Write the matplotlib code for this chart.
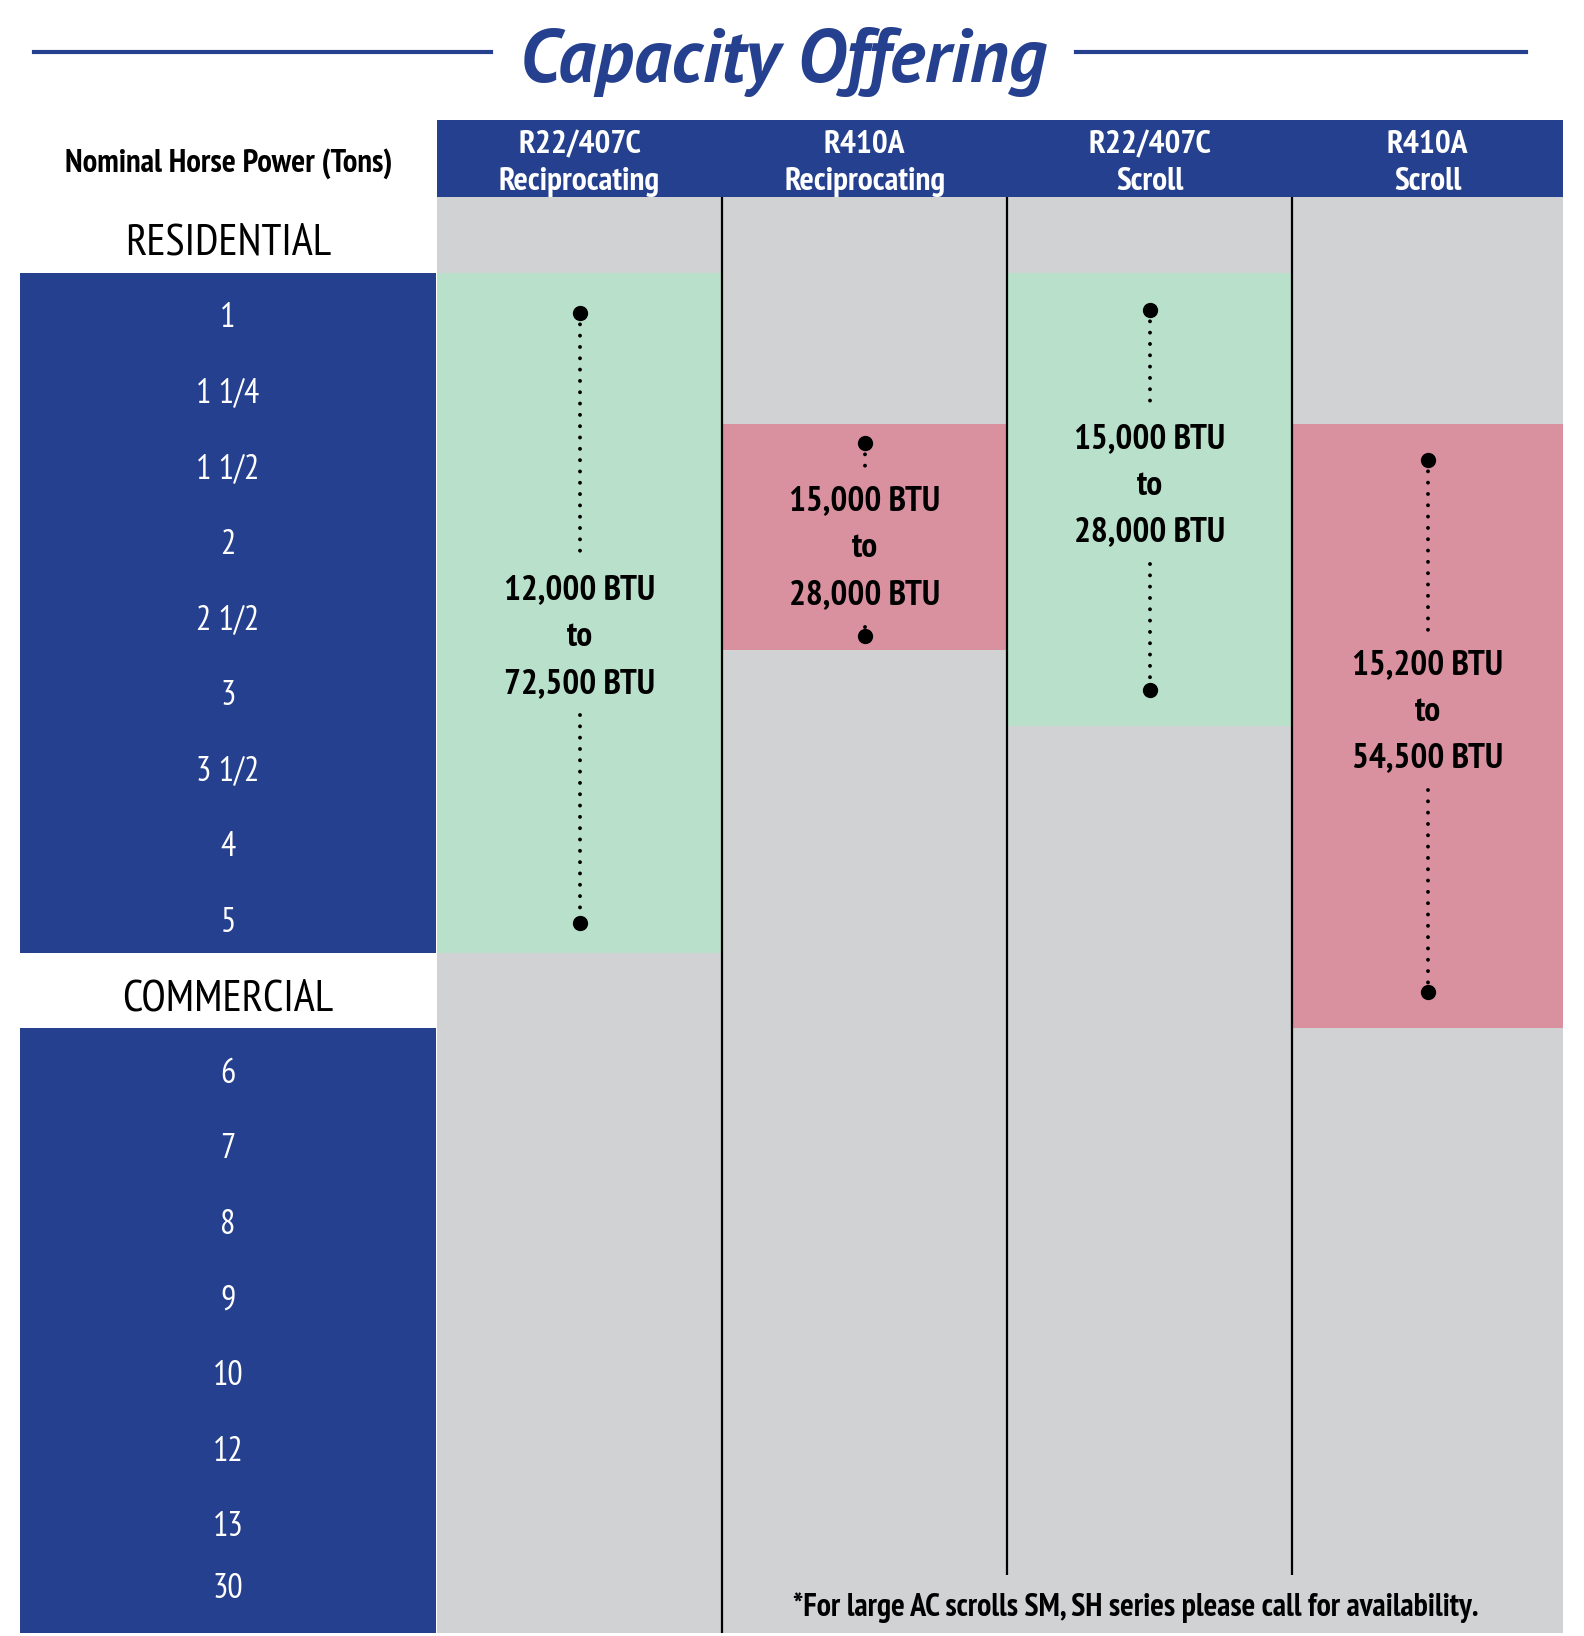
import matplotlib.pyplot as plt
from matplotlib.lines import Line2D

# datos de la tabla
residencial = ['1', '1 1/4', '1 1/2', '2', '2 1/2', '3', '3 1/2', '4', '5']
comercial = ['6', '7', '8', '9', '10', '12', '13', '30']
columnas = ['R22/407C\nReciprocating', 'R410A\nReciprocating', 'R22/407C\nScroll', 'R410A\nScroll']
btu_min = [12000, 15000, 15000, 15200]
btu_max = [72500, 28000, 28000, 54500]
# filas (en unidades de fila) que cubre cada rango
fila_ini = [1, 3, 1, 3]
fila_fin = [10, 6, 7, 11]
punto_ini = [1.53, 3.26, 1.49, 3.48]
punto_fin = [9.61, 5.81, 6.52, 10.52]
fila_texto = [5.76, 4.59, 3.76, 6.75]
tipo_color = ['verde', 'rosa', 'verde', 'rosa']
nota = '*For large AC scrolls SM, SH series please call for availability.'

azul = '#25408E'
gris = '#D1D2D4'
colores = {'verde': '#B9E0CB', 'rosa': '#D9919F'}
angosta = ['PT Sans Narrow', 'DejaVu Sans']

W, H = 1584, 1636
def caja(izq, arr, der, abj):
    return [izq / W, 1 - abj / H, (der - izq) / W, (abj - arr) / H]

fig = plt.figure(figsize=(W / 100, H / 100), dpi=100)

filas = ['RESIDENTIAL'] + residencial + ['COMMERCIAL'] + comercial
n_filas = len(filas)
anchos = [1, 1, 1, 0.95]
bordes = [sum(anchos[:i]) for i in range(len(anchos) + 1)]

# titulo
fig.text(783 / W, 1 - 62 / H, 'Capacity Offering', ha='center', va='center',
         fontsize=54, fontweight='bold', fontstyle='italic', family=['PT Sans', 'DejaVu Sans'],
         color=azul)
fig.add_artist(Line2D([34 / W, 491 / W], [1 - 52 / H] * 2, color=azul, lw=3))
fig.add_artist(Line2D([1076 / W, 1526 / W], [1 - 52 / H] * 2, color=azul, lw=3))

# encabezado
ax_h = fig.add_axes(caja(437, 120, 1563, 197))
ax_h.set_xlim(0, bordes[-1])
ax_h.set_ylim(1, 0)
ax_h.set_facecolor(azul)
ax_h.set_xticks([])
ax_h.set_yticks([])
for s in ax_h.spines.values():
    s.set_visible(False)
for i, nombre in enumerate(columnas):
    l1, l2 = nombre.split('\n')
    xc = (bordes[i] + bordes[i + 1]) / 2
    ax_h.text(xc, 0.33, l1, ha='center', va='center', color='white', fontsize=24,
              fontweight='bold', family=angosta)
    ax_h.text(xc, 0.80, l2, ha='center', va='center', color='white', fontsize=24,
              fontweight='bold', family=angosta)

fig.text(229 / W, 1 - 164 / H, 'Nominal Horse Power (Tons)', ha='center', va='center',
         fontsize=23.5, fontweight='bold', family=angosta)

# panel izquierdo
ax_l = fig.add_axes(caja(20, 197, 436, 1633))
ax_l.set_xlim(0, 1)
ax_l.set_ylim(n_filas, 0)
ax_l.axis('off')
ax_l.axhspan(1, 1 + len(residencial), color=azul, lw=0)
ax_l.axhspan(2 + len(residencial), n_filas, color=azul, lw=0)
for j, f in enumerate(filas):
    if f in ('RESIDENTIAL', 'COMMERCIAL'):
        ax_l.text(0.5, j + 0.62, f, ha='center', va='center', fontsize=32,
                  family=angosta, color='black')
    else:
        # la ultima fila va un poco mas arriba en el original
        yy = j + 0.6 if j < n_filas - 1 else j + 0.42
        ax_l.text(0.5, yy, f, ha='center', va='center', fontsize=24.5,
                  family=angosta, color='white')

# area de datos
ax = fig.add_axes(caja(437, 197, 1563, 1633))
ax.set_xlim(0, bordes[-1])
ax.set_ylim(n_filas, 0)
ax.set_facecolor(gris)
ax.set_xticks([])
ax.set_yticks([])
for s in ax.spines.values():
    s.set_visible(False)

for i in range(len(columnas)):
    ax.bar(bordes[i], fila_fin[i] - fila_ini[i], bottom=fila_ini[i], width=anchos[i],
           align='edge', color=colores[tipo_color[i]], lw=0)
    xc = (bordes[i] + bordes[i + 1]) / 2
    centro = fila_texto[i]
    ax.plot([xc, xc], [punto_ini[i], centro - 1.0], color='black', lw=2.8,
            ls=(0, (0.01, 2.9)), dash_capstyle='round')
    ax.plot([xc, xc], [centro + 1.1, punto_fin[i]], color='black', lw=2.8,
            ls=(0, (0.01, 2.9)), dash_capstyle='round')
    ax.plot([xc, xc], [punto_ini[i], punto_fin[i]], 'o', color='black', ms=10, ls='none')
    ax.text(xc, centro - 0.62 + 0.06, f'{btu_min[i]:,} BTU', ha='center', va='center',
            fontsize=25.5, fontweight='bold', family=angosta)
    ax.text(xc, centro + 0.06, 'to', ha='center', va='center', fontsize=25.5,
            fontweight='bold', family=angosta)
    ax.text(xc, centro + 0.62 + 0.06, f'{btu_max[i]:,} BTU', ha='center', va='center',
            fontsize=25.5, fontweight='bold', family=angosta)

# lineas divisorias
ax.vlines(bordes[1], 0, n_filas, color='black', lw=1.6)
ax.vlines(bordes[2:4], 0, 18.23, color='black', lw=1.6)

ax.text(2.45, 18.66, nota, ha='center', va='center', fontsize=23,
        fontweight='bold', family=angosta)

fig.savefig('out.png', dpi=100)
